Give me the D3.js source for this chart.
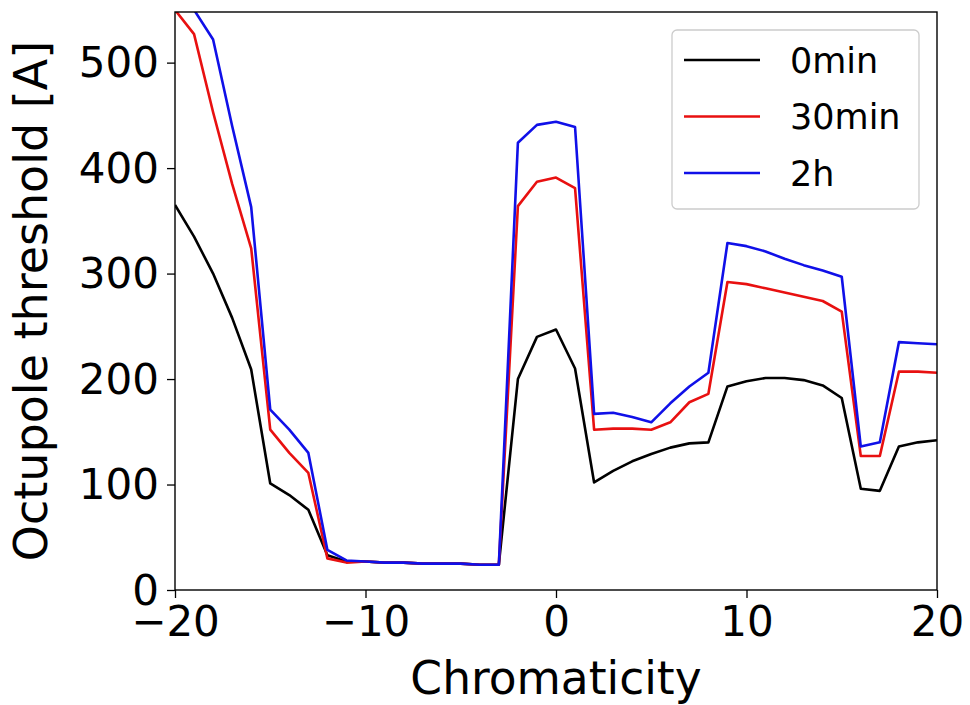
<!DOCTYPE html>
<html>
<head>
<meta charset="utf-8">
<script src="https://cdn.jsdelivr.net/npm/d3@7"></script>
<style>
  html, body { margin: 0; padding: 0; background: #fff; }
  svg { display: block; }
  text { font-family: "DejaVu Sans", sans-serif; fill: #000; }
</style>
</head>
<body>
<svg id="chart" width="970" height="705"></svg>
<script>
// Chromaticity scan, integer steps
const chroma = d3.range(-20, 21);

// Octupole threshold [A] after each waiting time
const thr0min = [365, 335, 300, 258, 209, 101, 90, 76, 33, 27, 27, 26, 26, 25, 25, 25, 24, 24,
  200, 240, 247, 210, 102, 113, 122, 129, 135, 139, 140, 193, 198, 201, 201, 199, 194, 182,
  96, 94, 136, 140, 142];
const thr30min = [550, 527, 453, 385, 324, 152, 130, 111, 30, 26, 27, 26, 26, 25, 25, 25, 24, 24,
  364, 387, 391, 381, 152, 153, 153, 152, 159, 178, 186, 292, 290, 286, 282, 278, 274, 264,
  127, 127, 207, 207, 206];
const thr2h = [585, 550, 522, 440, 363, 171, 152, 130, 38, 28, 27, 26, 26, 25, 25, 25, 24, 24,
  424, 441, 444, 439, 167, 168, 164, 159, 177, 193, 206, 329, 326, 321, 314, 308, 303, 297,
  136, 140, 235, 234, 233];

const seriesNames = ["0min", "30min", "2h"];
const seriesColors = ["#000000", "#e81010", "#1010e8"];
const seriesValues = [thr0min, thr30min, thr2h];

const xTicks = [-20, -10, 0, 10, 20];
const yTicks = [0, 100, 200, 300, 400, 500];

const margin = { left: 175, right: 33, top: 12, bottom: 115 };
const W = 970, H = 705;
const svg = d3.select("#chart");

const x = d3.scaleLinear().domain([-20, 20]).range([margin.left, W - margin.right]);
const y = d3.scaleLinear().domain([0, 548]).range([H - margin.bottom, margin.top]);

svg.append("defs").append("clipPath").attr("id", "plot-clip")
  .append("rect")
  .attr("x", x(-20)).attr("y", y(548))
  .attr("width", x(20) - x(-20)).attr("height", y(0) - y(548));

// Lines
const line = d3.line().x((d, i) => x(chroma[i])).y(d => y(d));
const lines = svg.append("g").attr("clip-path", "url(#plot-clip)");
seriesValues.forEach((vals, k) => {
  lines.append("path")
    .attr("d", line(vals))
    .attr("fill", "none")
    .attr("stroke", seriesColors[k])
    .attr("stroke-width", 2.6)
    .attr("stroke-linejoin", "round");
});

// Frame
svg.append("rect")
  .attr("x", x(-20)).attr("y", y(548))
  .attr("width", x(20) - x(-20)).attr("height", y(0) - y(548))
  .attr("fill", "none").attr("stroke", "#000").attr("stroke-width", 1.4);

// Axes
const xAxis = d3.axisBottom(x).tickValues(xTicks).tickSize(8).tickPadding(8)
  .tickFormat(d => d < 0 ? "\u2212" + Math.abs(d) : String(d));
const gx = svg.append("g").attr("transform", `translate(0,${y(0)})`).call(xAxis);
const yAxis = d3.axisLeft(y).tickValues(yTicks).tickSize(8).tickPadding(8);
const gy = svg.append("g").attr("transform", `translate(${x(-20)},0)`).call(yAxis);
[gx, gy].forEach(g => {
  g.select(".domain").remove();
  g.selectAll(".tick line").attr("stroke", "#000").attr("stroke-width", 1.3);
  g.selectAll(".tick text").attr("font-family", "DejaVu Sans").attr("font-size", 42).attr("fill", "#000");
});
gy.selectAll(".tick text").attr("dy", "0.34em");

// Axis titles
svg.append("text")
  .attr("x", (x(-20) + x(20)) / 2).attr("y", 694)
  .attr("text-anchor", "middle").attr("font-size", 45.5)
  .text("Chromaticity");
svg.append("text")
  .attr("transform", `translate(47,${(y(0) + y(548)) / 2}) rotate(-90)`)
  .attr("text-anchor", "middle").attr("font-size", 46)
  .text("Octupole threshold [A]");

// Legend
const lg = svg.append("g");
lg.append("rect")
  .attr("x", 672).attr("y", 30).attr("width", 247).attr("height", 179)
  .attr("rx", 5).attr("fill", "#fff").attr("fill-opacity", 0.8)
  .attr("stroke", "#cccccc").attr("stroke-width", 1.3);
seriesNames.forEach((name, k) => {
  const cy = 60 + k * 56.5;
  lg.append("line")
    .attr("x1", 684).attr("x2", 760).attr("y1", cy).attr("y2", cy)
    .attr("stroke", seriesColors[k]).attr("stroke-width", 2.6);
  lg.append("text")
    .attr("x", 790).attr("y", cy).attr("dy", "0.36em")
    .attr("font-size", 35)
    .text(name);
});
</script>
</body>
</html>
